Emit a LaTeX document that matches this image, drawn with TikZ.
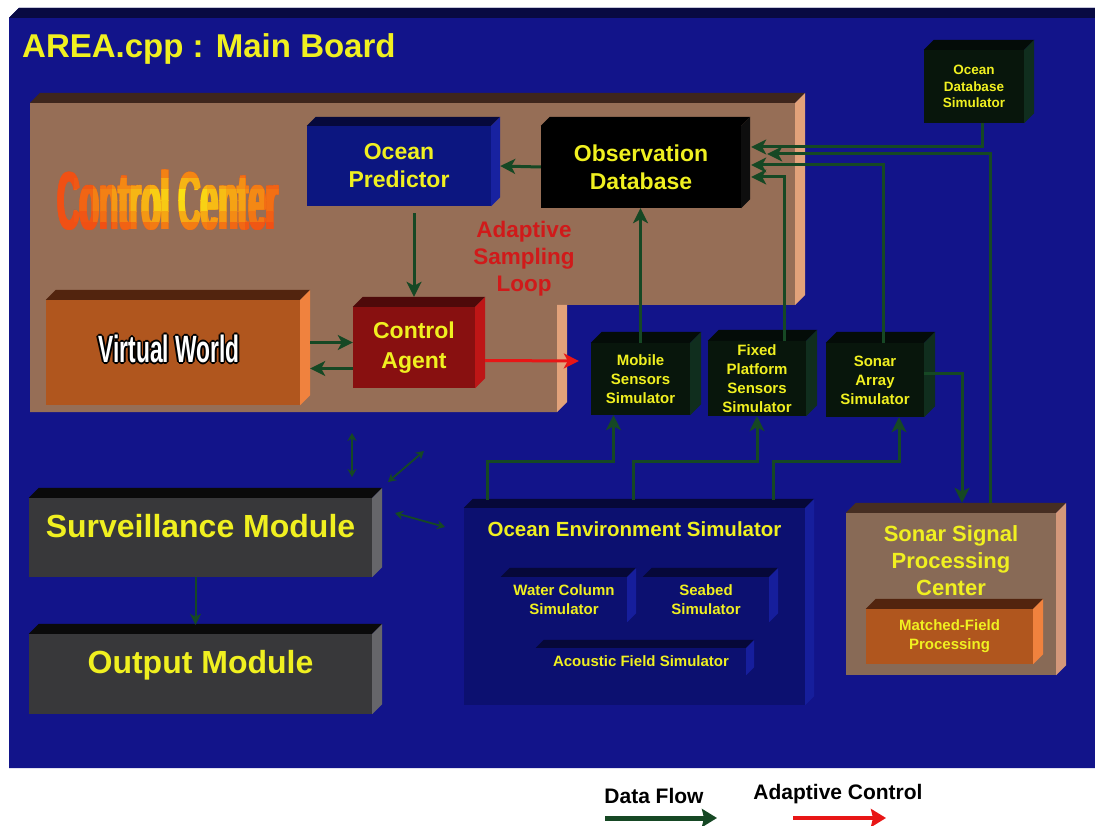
\documentclass[tikz,border=0pt]{standalone}
\usepackage{fontspec}
\setmainfont{Liberation Sans}
\newfontfamily\vwfont{Liberation Sans Bold}[FakeStretch=0.6]
\usepackage{graphicx}
\usepackage{tikz}
\usetikzlibrary{arrows.meta,calc}
\definecolor{boardblue}{RGB}{18,20,138}
\definecolor{boardtop}{RGB}{8,10,66}
\definecolor{panelfront}{RGB}{150,110,86}
\definecolor{paneltop}{RGB}{62,38,28}
\definecolor{panelside}{RGB}{226,162,122}
\definecolor{opFront}{RGB}{12,22,128}
\definecolor{opTop}{RGB}{6,9,60}
\definecolor{opSide}{RGB}{24,34,160}
\definecolor{dbSide}{RGB}{14,14,14}
\definecolor{simFront}{RGB}{8,22,12}
\definecolor{simTop}{RGB}{4,12,8}
\definecolor{simSide}{RGB}{16,46,30}
\definecolor{vwFront}{RGB}{176,86,30}
\definecolor{vwTop}{RGB}{82,36,14}
\definecolor{vwSide}{RGB}{240,130,62}
\definecolor{caFront}{RGB}{136,16,16}
\definecolor{caTop}{RGB}{78,10,10}
\definecolor{caSide}{RGB}{190,22,22}
\definecolor{modFront}{RGB}{56,56,58}
\definecolor{modTop}{RGB}{10,10,10}
\definecolor{modSide}{RGB}{102,102,106}
\definecolor{oesFront}{RGB}{12,16,112}
\definecolor{oesTop}{RGB}{6,8,56}
\definecolor{oesSide}{RGB}{22,30,156}
\definecolor{sspcFront}{RGB}{136,106,86}
\definecolor{sspcTop}{RGB}{70,46,34}
\definecolor{sspcSide}{RGB}{212,152,122}
\definecolor{txtyel}{RGB}{240,240,32}
\definecolor{flowgreen}{RGB}{22,72,36}
\definecolor{ctrlred}{RGB}{232,22,22}
\definecolor{loopred}{RGB}{208,26,26}
\definecolor{ccorange}{RGB}{240,80,20}
\definecolor{ccyellow}{RGB}{250,245,20}
\newcommand{\cctext}{\scalebox{0.385}[1]{\fontsize{82}{82}\selectfont\bfseries Control Center}}
\newcommand{\ccthick}{\rlap{\cctext}\kern1.4pt\rlap{\cctext}\kern1.4pt\cctext}
\newcommand{\vwtext}{\vwfont\fontsize{38}{38}\selectfont Virtual World}
\tikzset{
  blk/.style={inner sep=0pt, align=center, text=txtyel},
  fsz/.style 2 args={font=\fontsize{#1}{#2}\selectfont\bfseries},
  flow/.style={-{Stealth[length=15pt,width=15pt,inset=4pt]}, line width=3pt, draw=flowgreen},
  thinflow/.style={-{Stealth[length=11pt,width=11pt,inset=3pt]}, line width=2pt, draw=flowgreen},
  ctrl/.style={-{Stealth[length=15pt,width=15pt,inset=4pt]}, line width=3pt, draw=ctrlred},
  dbl/.style={{Stealth[length=8pt,width=9pt]}-{Stealth[length=8pt,width=9pt]}, line width=1.8pt, draw=flowgreen},
  lgd/.style={inner sep=0pt, fsz={21}{21}}
}
\begin{document}
\begin{tikzpicture}[x=1pt,y=-1pt]
  \useasboundingbox (0,0) rectangle (1095,826);
  \fill[white] (0,0) rectangle (1095,826);
  % main board
  \fill[boardblue] (9,18) -- (19,8) -- (1095,8) -- (1095,768) -- (9,768) -- cycle;
  \fill[boardtop] (9,18) -- (19,8) -- (1095,8) -- (1095,18) -- cycle;
  \node[anchor=base west, inner sep=0pt, text=txtyel, fsz={33}{33}] (title) at (22,58) {AREA.cpp : Main Board};
  % control center slab
  \fill[panelfront] (30,103) -- (795,103) -- (795,305) -- (557,305) -- (557,412) -- (30,412) -- cycle;
  \fill[paneltop] (30,103) -- (40,93) -- (805,93) -- (795,103) -- cycle;
  \fill[panelside] (795,103) -- (805,93) -- (805,295) -- (795,305) -- cycle;
  \fill[panelside] (557,305) -- (567,305) -- (567,402) -- (557,412) -- cycle;
  \node[inner sep=0pt, text=ccorange] (cctxt) at (168,200) {\ccthick};
  \foreach \i in {0,...,11}{
    \foreach \j in {0,...,5}{
      \pgfmathsetmacro\cx{55+\i*19+9.5}
      \pgfmathsetmacro\cy{168+\j*11+5.5}
      \pgfmathtruncatemacro\p{max(0,100-100*sqrt(((\cx-182)/115)^2+((\cy-200)/40)^2))}
      \begin{scope}
        \clip (55+\i*19,168+\j*11) rectangle ++(19,11);
        \node[inner sep=0pt, text=ccyellow!\p!ccorange] (cc\i\j) at (cctxt) {\ccthick};
      \end{scope}
    }
  }
  \node[inner sep=0pt, align=center, text=loopred, fsz={22.5}{27}] (asl) at (524,259) {Adaptive\\Sampling\\Loop};
  % blocks
  \node[blk, fill=opFront, minimum width=184pt, minimum height=80pt, fsz={23}{28}] (op) at (399,166) {Ocean\\Predictor};
  \node[blk, fill=black, minimum width=200pt, minimum height=82pt, fsz={23}{28}] (odb) at (641,167) {Observation\\Database};
  \node[blk, fill=simFront, minimum width=100pt, minimum height=73pt, fsz={13.5}{16.5}] (ods) at (974,86.5) {Ocean\\Database\\Simulator};
  \node[blk, fill=vwFront, minimum width=254pt, minimum height=105pt] (vw) at (173,352.5) {};
  \node[blk, fill=caFront, minimum width=122pt, minimum height=81pt, fsz={23}{30}] (ca) at (414,347.5) {Control\\Agent};
  \node[blk, fill=simFront, minimum width=99pt, minimum height=72pt, fsz={15}{19}] (mss) at (640.5,379) {Mobile\\Sensors\\Simulator};
  \node[blk, fill=simFront, minimum width=98pt, minimum height=75pt, fsz={15}{19}] (fps) at (757,378.5) {Fixed\\Platform\\Sensors\\Simulator};
  \node[blk, fill=simFront, minimum width=98pt, minimum height=74pt, fsz={15}{19}] (sas) at (875,380) {Sonar\\Array\\Simulator};
  \node[blk, fill=modFront, minimum width=343pt, minimum height=79pt, text depth=24pt, fsz={32}{32}] (surv) at (200.5,537.5) {Surveillance Module};
  \node[blk, fill=modFront, minimum width=343pt, minimum height=80pt, text depth=24pt, fsz={32}{32}] (outm) at (200.5,674) {Output Module};
  \node[blk, fill=oesFront, minimum width=341pt, minimum height=197pt,
    label={[name=oeslbl, anchor=north, yshift=-14pt, inner sep=0pt, text=txtyel, fsz={20.5}{24}]north:Ocean Environment Simulator}] (oes) at (634.5,606.5) {};
  \node[blk, fill=oesFront, minimum width=126pt, minimum height=45pt, fsz={15}{19}] (wcs) at (564,599.5) {Water Column\\Simulator};
  \node[blk, fill=oesFront, minimum width=126pt, minimum height=45pt, fsz={15}{19}] (sbs) at (706,599.5) {Seabed\\Simulator};
  \node[blk, fill=oesFront, minimum width=210pt, minimum height=27pt, fsz={15}{19}] (afs) at (641,661.5) {Acoustic Field Simulator};
  \node[blk, fill=sspcFront, minimum width=210pt, minimum height=162pt,
    label={[name=sspclbl, anchor=north, yshift=-13pt, inner sep=0pt, align=center, text=txtyel, fsz={22}{27}]north:Sonar Signal\\Processing\\Center}] (sspc) at (951,594) {};
  \node[blk, fill=vwFront, minimum width=167pt, minimum height=55pt, fsz={15}{19}] (mfp) at (949.5,636.5) {Matched-Field\\Processing};
  % top and side faces
  \foreach \n/\d/\tp/\sd in {op/9/opTop/opSide, odb/9/black/dbSide, ods/10/simTop/simSide, vw/10/vwTop/vwSide,
      ca/10/caTop/caSide, mss/11/simTop/simSide, fps/11/simTop/simSide, sas/11/simTop/simSide,
      surv/10/modTop/modSide, outm/10/modTop/modSide, oes/9/oesTop/oesSide, wcs/9/oesTop/oesSide,
      sbs/9/oesTop/oesSide, afs/8/oesTop/oesSide, sspc/10/sspcTop/sspcSide, mfp/10/vwTop/vwSide}{
    \fill[\tp] (\n.north west) -- ++(\d,-\d) -- ([shift={(\d,-\d)}]\n.north east) -- (\n.north east) -- cycle;
    \fill[\sd] (\n.north east) -- ++(\d,-\d) -- ([shift={(\d,-\d)}]\n.south east) -- (\n.south east) -- cycle;
  }
  % outlined label of the virtual world
  \foreach \a in {0,45,...,315}
    \node[inner sep=0pt, text=black] (vwo\a) at ($(169,349)+(\a:1.7)$) {\vwtext};
  \node[inner sep=0pt, text=white] (vwtxt) at (169,349) {\vwtext};
  % data flow
  \draw[flow] (odb.west) -- ([xshift=9pt]op.east);
  \draw[flow, shorten <=7pt] (op.south -| ca.north) -- ([yshift=10pt]ca.north);
  \draw[flow] ($(vw.east |- ca.west)+(10,-5)$) -- ($(ca.west)+(0,-5)$);
  \draw[flow] ($(ca.west)+(0,21)$) -- ($(vw.east |- ca.west)+(10,21)$);
  \draw[flow] (mss.north) -- (mss.north |- odb.south);
  \draw[flow] ([xshift=8pt]ods.south) |- ([xshift=10pt,yshift=20pt]odb.east);
  \draw[flow] ([xshift=39pt,yshift=10pt]sspc.north) |- ([xshift=26pt,yshift=13pt]odb.east);
  \draw[flow] ([xshift=8pt]sas.north) |- ([xshift=10pt,yshift=2pt]odb.east);
  \draw[flow] ([xshift=27pt]fps.north) |- ([xshift=10pt,yshift=-10pt]odb.east);
  \draw[flow] ([yshift=7pt]sas.east) -| ([xshift=11pt,yshift=10pt]sspc.north);
  \draw[flow] ([xshift=24pt,yshift=8pt]oes.north west) -- ++(0,-38) -| ([xshift=-27pt]mss.south);
  \draw[flow] ([xshift=170pt,yshift=8pt]oes.north west) -- ++(0,-38) -| (fps.south);
  \draw[flow] ([xshift=310pt,yshift=8pt]oes.north west) -- ++(0,-38) -| ([xshift=24pt]sas.south);
  \draw[thinflow] ([xshift=-5pt]surv.south) -- ([xshift=-5pt,yshift=9pt]outm.north);
  % adaptive control
  \draw[ctrl] ([xshift=10pt,yshift=-13pt]ca.east) -- ([xshift=-12pt,yshift=18pt]mss.west);
  % links of the surveillance module
  \coordinate (d1a) at (352,433);
  \coordinate (d1b) at (352,477);
  \coordinate (d2a) at (388,482);
  \coordinate (d2b) at (424,451);
  \coordinate (d3a) at (395,513);
  \coordinate (d3b) at (445,527);
  \draw[dbl] (d1a) -- (d1b);
  \draw[dbl] (d2a) -- (d2b);
  \draw[dbl] (d3a) -- (d3b);
  % legend
  \node[lgd] (dflbl) at (654,796) {Data Flow};
  \node[lgd] (aclbl) at (838,794) {Adaptive Control};
  \coordinate (lg1) at (605,818);
  \coordinate (lg2) at (717,818);
  \coordinate (lg3) at (793,818);
  \coordinate (lg4) at (886,818);
  \draw[-{Stealth[length=15pt,width=18pt,inset=2pt]}, line width=5pt, draw=flowgreen] (lg1) -- (lg2);
  \draw[-{Stealth[length=15pt,width=18pt,inset=2pt]}, line width=4pt, draw=ctrlred] (lg3) -- (lg4);
\end{tikzpicture}
\end{document}
